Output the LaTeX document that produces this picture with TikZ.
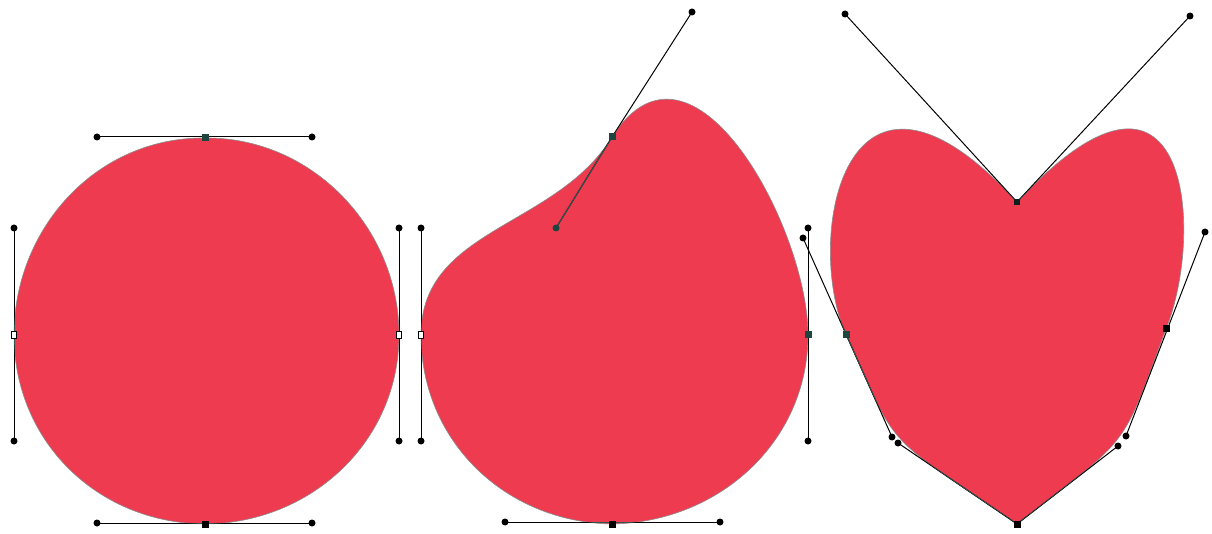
\documentclass[tikz,border=0pt]{standalone}
\definecolor{shapefill}{RGB}{238,59,80}
\definecolor{inline}{RGB}{50,85,80}
\definecolor{anchorteal}{RGB}{30,70,65}
\tikzset{
  shapefill/.style={fill=shapefill, draw=black!45, line width=0.6pt},
  handleline/.style={draw=black, line width=1pt},
  innerline/.style={draw=inline, line width=1pt},
  hdot/.style={circle, fill=black, inner sep=0pt, minimum size=7pt},
  hdotin/.style={circle, fill=anchorteal, inner sep=0pt, minimum size=7pt},
  asel/.style={rectangle, fill=black, inner sep=0pt, minimum size=7pt},
  ateal/.style={rectangle, fill=anchorteal, inner sep=0pt, minimum size=7pt},
  aopen/.style={rectangle, fill=white, draw=black, line width=0.8pt, inner sep=0pt, minimum width=5pt, minimum height=7pt},
}
\begin{document}
\begin{tikzpicture}[x=1pt,y=-1pt]
\useasboundingbox (0,0) rectangle (1212,534);
% ---- circle coordinates
\coordinate (T1) at (205,138); \coordinate (T1a) at (97,137); \coordinate (T1b) at (312,137);
\coordinate (R1) at (399,335); \coordinate (R1a) at (399,228); \coordinate (R1b) at (399,441);
\coordinate (B1) at (205,524); \coordinate (B1a) at (312,523); \coordinate (B1b) at (97,523);
\coordinate (L1) at (14,335); \coordinate (L1a) at (14,441); \coordinate (L1b) at (14,228);
% ---- drop coordinates
\coordinate (A2) at (612,137); \coordinate (A2o) at (692,12); \coordinate (A2i) at (556,228);
\coordinate (R2) at (808,335); \coordinate (R2a) at (808,228); \coordinate (R2b) at (808,441);
\coordinate (B2) at (612,524); \coordinate (B2a) at (720,522); \coordinate (B2b) at (505,522);
\coordinate (L2) at (421,335); \coordinate (L2a) at (421,441); \coordinate (L2b) at (421,228);
% ---- heart coordinates
\coordinate (T3) at (1017,202); \coordinate (T3r) at (1190,16); \coordinate (T3l) at (845,14);
\coordinate (R3) at (1166,329); \coordinate (R3a) at (1205,232); \coordinate (R3b) at (1126,436);
\coordinate (B3) at (1017,524); \coordinate (B3r) at (1118,446); \coordinate (B3l) at (898,443);
\coordinate (L3) at (846,335); \coordinate (L3a) at (892,437); \coordinate (L3b) at (803,238);
% slightly longer control points used for the heart's lower outline
\coordinate (R3bx) at (1120,452); \coordinate (B3rx) at (1133,434);
\coordinate (B3lx) at (880,431); \coordinate (L3ax) at (899,452);

\def\pathone{(T1) .. controls (T1b) and (R1a) .. (R1) .. controls (R1b) and (B1a) .. (B1) .. controls (B1b) and (L1a) .. (L1) .. controls (L1b) and (T1a) .. (T1) -- cycle}
\def\pathtwo{(A2) .. controls (A2o) and (R2a) .. (R2) .. controls (R2b) and (B2a) .. (B2) .. controls (B2b) and (L2a) .. (L2) .. controls (L2b) and (A2i) .. (A2) -- cycle}
\def\paththree{(T3) .. controls (T3r) and (R3a) .. (R3) .. controls (R3bx) and (B3rx) .. (B3) .. controls (B3lx) and (L3ax) .. (L3) .. controls (L3b) and (T3l) .. (T3) -- cycle}

% fills
\path[shapefill] \pathone;
\path[shapefill] \pathtwo;
\path[shapefill] \paththree;

% handle lines (black)
\draw[handleline] (T1a) -- (T1b); \draw[handleline] (R1a) -- (R1b); \draw[handleline] (B1a) -- (B1b); \draw[handleline] (L1a) -- (L1b);
\draw[handleline] (A2o) -- (A2) -- (A2i); \draw[handleline] (R2a) -- (R2b); \draw[handleline] (B2a) -- (B2b); \draw[handleline] (L2a) -- (L2b);
\draw[handleline] (T3l) -- (T3) -- (T3r); \draw[handleline] (R3a) -- (R3b); \draw[handleline] (B3l) -- (B3) -- (B3r); \draw[handleline] (L3b) -- (L3a);

% parts of handle lines lying on the fill appear dark teal
\begin{scope}
\clip \pathone \pathtwo \paththree;
\draw[innerline] (T1a) -- (T1b); \draw[innerline] (R1a) -- (R1b); \draw[innerline] (B1a) -- (B1b); \draw[innerline] (L1a) -- (L1b);
\draw[innerline] (A2o) -- (A2) -- (A2i); \draw[innerline] (R2a) -- (R2b); \draw[innerline] (B2a) -- (B2b); \draw[innerline] (L2a) -- (L2b);
\draw[innerline] (T3l) -- (T3) -- (T3r); \draw[innerline] (R3a) -- (R3b); \draw[innerline] (B3l) -- (B3) -- (B3r); \draw[innerline] (L3b) -- (L3a);
\end{scope}

% handle end dots
\foreach \h in {T1a,T1b,R1a,R1b,B1a,B1b,L1a,L1b,A2o,R2a,R2b,B2a,B2b,L2a,L2b,T3l,T3r,R3a,R3b,B3r,B3l,L3a,L3b}
  \node[hdot] (d\h) at (\h) {};
\node[hdotin] (dA2i) at (A2i) {};

% anchor points
\node[ateal] (mT1) at (T1) {};
\node[aopen] (mR1) at (R1) {};
\node[asel] (mB1) at (B1) {};
\node[aopen] (mL1) at (L1) {};
\node[ateal] (mA2) at (A2) {};
\node[ateal] (mR2) at (R2) {};
\node[asel] (mB2) at (B2) {};
\node[aopen] (mL2) at (L2) {};
\node[rectangle, fill=black!55!anchorteal, inner sep=0pt, minimum size=6pt] (mT3) at (T3) {};
\node[asel] (mR3) at (R3) {};
\node[asel] (mB3) at (B3) {};
\node[ateal] (mL3) at (L3) {};
\end{tikzpicture}
\end{document}
